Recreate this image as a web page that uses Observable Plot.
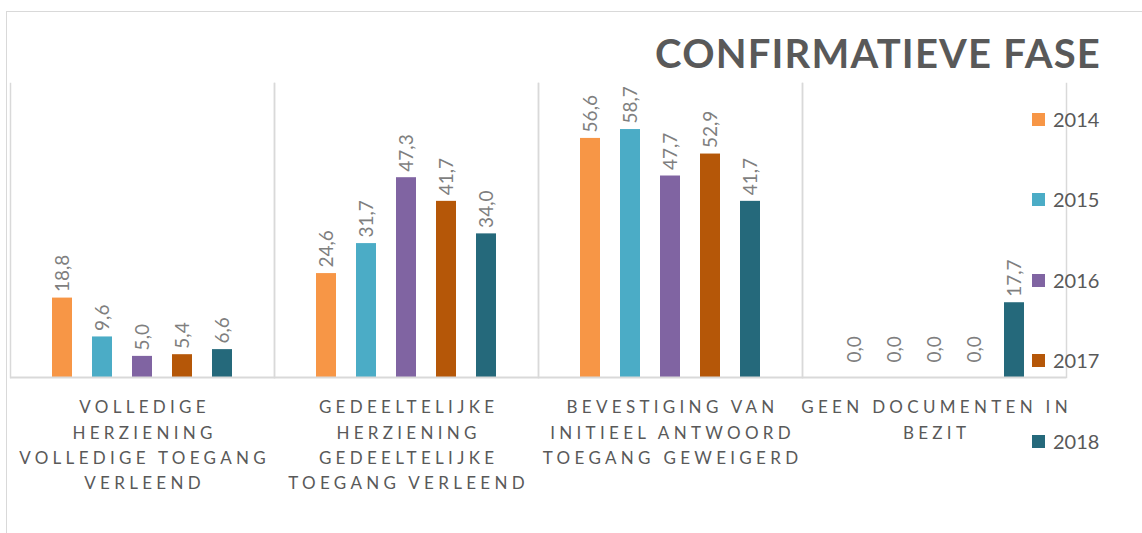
<!DOCTYPE html>
<html><head><meta charset="utf-8">
<script src="https://cdn.jsdelivr.net/npm/d3@7"></script>
<script src="https://cdn.jsdelivr.net/npm/@observablehq/plot@0.6"></script>
<style>
html,body{margin:0;padding:0;background:#fff;}
#wrap{position:relative;width:1142px;height:533px;overflow:hidden;font-family:Lato,sans-serif;}
#border{position:absolute;left:6px;top:11px;width:1300px;height:700px;border-left:1.5px solid #d9d9d9;border-top:1.5px solid #d9d9d9;}
#title{position:absolute;right:41px;top:33px;font-size:40px;line-height:1;font-weight:bold;color:#595959;letter-spacing:1.2px;white-space:nowrap;}
.leg{position:absolute;left:1032px;height:20px;font-size:20px;line-height:1;color:#595959;white-space:nowrap;}
.leg span.sw{position:absolute;left:0;top:4px;width:13px;height:13px;}
.leg span.tx{position:absolute;left:21px;top:0;}
#chart{position:absolute;left:0;top:0;}
g[aria-label="fx-axis tick label"] text{letter-spacing:4.3px;}
</style>
</head><body>
<div id="wrap"><div id="border"></div><div id="chart"></div><div id="title">CONFIRMATIEVE FASE</div></div>
<script>
const categories = ["Volledige herziening volledige toegang verleend", "Gedeeltelijke herziening gedeeltelijke toegang verleend", "Bevestiging van initieel antwoord toegang geweigerd", "Geen documenten in bezit"];
const categoryLabels = ["VOLLEDIGE\nHERZIENING\nVOLLEDIGE TOEGANG\nVERLEEND", "GEDEELTELIJKE\nHERZIENING\nGEDEELTELIJKE\nTOEGANG VERLEEND", "BEVESTIGING VAN\nINITIEEL ANTWOORD\nTOEGANG GEWEIGERD", "GEEN DOCUMENTEN IN\nBEZIT"];
const years = ["2014", "2015", "2016", "2017", "2018"];
const v2014 = [18.8, 24.6, 56.6, 0.0];
const v2015 = [9.6, 31.7, 58.7, 0.0];
const v2016 = [5.0, 47.3, 47.7, 0.0];
const v2017 = [5.4, 41.7, 52.9, 0.0];
const v2018 = [6.6, 34.0, 41.7, 17.7];
const colors = ["#F79646", "#4BACC6", "#8064A2", "#B55708", "#25697B"];

const series = [v2014, v2015, v2016, v2017, v2018];
const data = [];
categories.forEach((c, i) => years.forEach((y, j) => data.push({category: c, year: y, value: series[j][i]})));
const fmt = v => v.toFixed(1).replace(".", ",");
const labelStyle = {fx: "category", x: "year", y: "value", text: d => fmt(d.value), rotate: -90, textAnchor: "start", lineAnchor: "middle", fill: "#7f7f7f", fontSize: 19};

const chart = Plot.plot({
  width: 1142, height: 533,
  marginLeft: 8, marginRight: 75, marginTop: 83, marginBottom: 156,
  style: {background: "none", fontFamily: "Lato, sans-serif", overflow: "visible"},
  fx: {domain: categories, padding: 0},
  x: {domain: years, paddingInner: 0.5, paddingOuter: 1.05, axis: null},
  y: {domain: [0, 69.6], axis: null},
  color: {domain: years, range: colors},
  marks: [
    Plot.frame({anchor: "left", stroke: "#d9d9d9", strokeWidth: 1.5}),
    Plot.frame({anchor: "right", stroke: "#d9d9d9", strokeWidth: 1.5}),
    Plot.barY(data, {fx: "category", x: "year", y: "value", fill: "year"}),
    Plot.ruleY([0], {stroke: "#d9d9d9", strokeWidth: 2}),
    Plot.text(data.filter(d => d.value > 0), {...labelStyle, dy: -6}),
    Plot.text(data.filter(d => d.value === 0), {...labelStyle, dy: -15}),
    Plot.axisFx({anchor: "bottom", tickSize: 0, tickPadding: 18, fontSize: 17, lineHeight: 1.49, color: "#595959", label: null, dx: 2.1,
      tickFormat: d => categoryLabels[categories.indexOf(d)]})
  ]
});
document.getElementById("chart").appendChild(chart);

const wrap = document.getElementById("wrap");
years.forEach((y, i) => {
  const d = document.createElement("div");
  d.className = "leg";
  d.style.top = (108.5 + i * 80.5) + "px";
  d.innerHTML = `<span class="sw" style="background:${colors[i]}"></span><span class="tx">${y}</span>`;
  wrap.appendChild(d);
});
</script>
</body></html>
